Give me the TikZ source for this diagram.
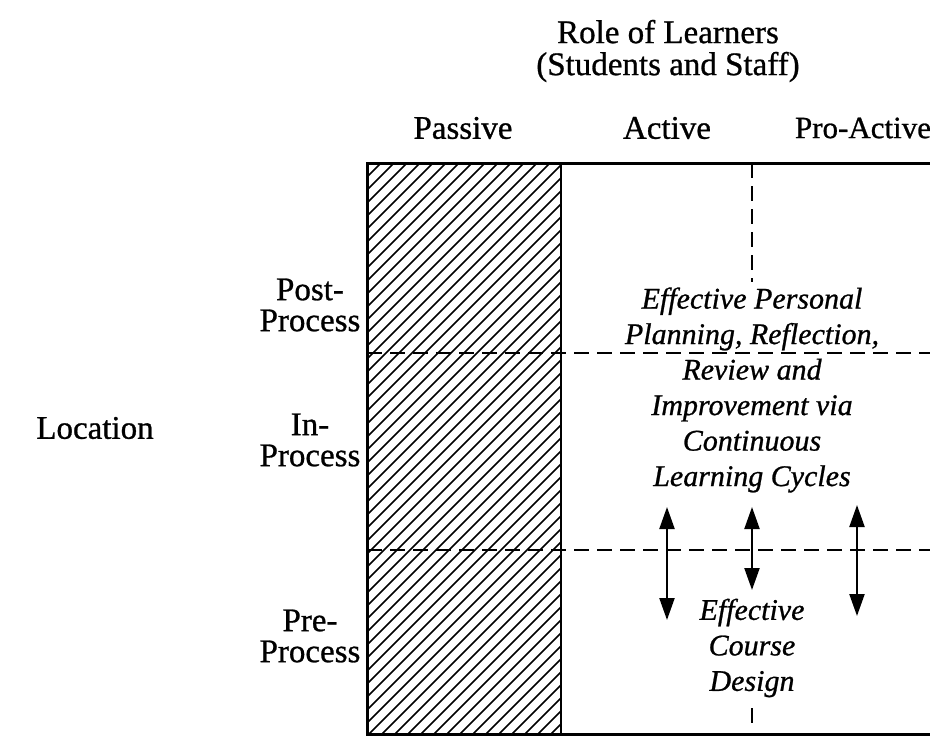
\documentclass[tikz,border=0pt]{standalone}
\usepackage{fontspec}
\setmainfont{Liberation Serif}[FakeBold=0.8]
\usetikzlibrary{arrows.meta}
\tikzset{
  lbl/.style={inner sep=0pt, font=\fontsize{33}{31}\selectfont, align=center},
  itl/.style={inner sep=0pt, font=\fontsize{30}{35.5}\selectfont\itshape, align=center},
  frame/.style={line width=3pt},
  rowdash/.style={line width=2.2pt, dash pattern=on 15pt off 8pt},
  hatchline/.style={line width=1.5pt},
  darrow/.style={line width=2.2pt, {Triangle[length=22pt,width=15pt]}-{Triangle[length=22pt,width=15pt]}}
}
\begin{document}
\begin{tikzpicture}[x=1pt,y=-1pt]
\useasboundingbox (0,0) rectangle (930,736);
% header
\node[lbl, font=\fontsize{33}{32}\selectfont] (role) at (668,51) {Role of Learners\\(Students and Staff)};
\node[lbl] (pas) at (463,128) {Passive};
\node[lbl] (act) at (667,128) {Active};
\node[lbl, font=\fontsize{31}{31}\selectfont] (pro) at (863,128) {Pro-Active};
% row labels
\node[lbl] (post) at (310,305) {Post-\\Process};
\node[lbl] (in) at (310,440) {In-\\Process};
\node[lbl] (pre) at (310,636) {Pre-\\Process};
\node[lbl] (loc) at (95,428) {Location};
% hatching
\begin{scope}
\clip (367,163) rectangle (561,736);
\foreach \i in {-60,...,50} {
  \draw[hatchline] (367+\i*13,736) -- ++(600,-600);
}
\end{scope}
\draw[line width=2.2pt] (561,163) -- (561,736);
% dashed rows
\draw[rowdash] (367,353) -- (930,353);
\draw[rowdash] (367,550) -- (930,550);
% vertical dashed
\coordinate (vt) at (752,163);
\coordinate (vb) at (752,282);
\draw[rowdash] (vt) -- (vb);
% frame
\draw[frame] (930,163) -- (367,163) -- (367,736);
\draw[frame] (367,734) -- (930,734);
% texts
\node[itl] (eff) at (752,390) {Effective Personal\\Planning, Reflection,\\Review and\\Improvement via\\Continuous\\Learning Cycles};
\node[itl] (ecd) at (752,648) {Effective\\Course\\Design};
\coordinate (tk1) at (752,708);
\coordinate (tk2) at (752,723);
\draw[line width=2.2pt] (tk1) -- (tk2);
% arrows
\coordinate (a1t) at (667,507); \coordinate (a1b) at (667,620);
\coordinate (a2t) at (752,507); \coordinate (a2b) at (752,590);
\coordinate (a3t) at (857,505); \coordinate (a3b) at (857,616);
\draw[darrow] (a1t) -- (a1b);
\draw[darrow] (a2t) -- (a2b);
\draw[darrow] (a3t) -- (a3b);
\end{tikzpicture}
\end{document}
